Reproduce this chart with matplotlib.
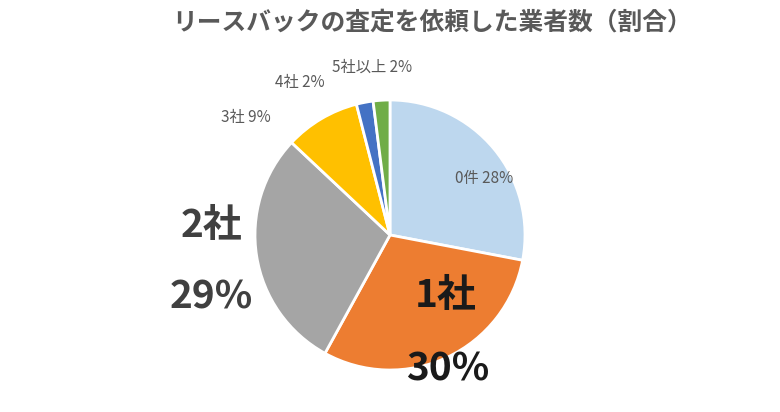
import matplotlib
matplotlib.use('Agg')
import matplotlib.pyplot as plt
import numpy as np

plt.rcParams['font.family'] = ['Noto Sans CJK JP', 'DejaVu Sans']

# Data
categories = ['0件', '1社', '2社', '3社', '4社', '5社以上']
shares = [28, 30, 29, 9, 2, 2]
slice_colors = ['#BDD7EE', '#ED7D31', '#A5A5A5', '#FFC000', '#4472C4', '#70AD47']
title = 'リースバックの査定を依頼した業者数（割合）'

fig = plt.figure(figsize=(7.8, 4.12), dpi=100)
ax = fig.add_axes([0, 0, 1, 1])

# Pie starting at the top, going clockwise
ax.pie(shares, colors=slice_colors, startangle=90, counterclock=False,
       radius=1, center=(0, 0),
       wedgeprops={'edgecolor': 'white', 'linewidth': 2})

# keep 135 px per unit so the pie sits where it does in the original
ax.set_xlim(-390 / 135, 390 / 135)
ax.set_ylim(-177 / 135, 235 / 135)
ax.set_aspect('equal', adjustable='datalim')
ax.axis('off')

# Small labels
small = {'color': '#595959', 'fontsize': 11, 'ha': 'center', 'va': 'center'}
ax.text(0.70, 0.42, f'{categories[0]} {shares[0]}%', **small)
ax.text(-1.07, 0.87, f'{categories[3]} {shares[3]}%', **small)
ax.text(-0.67, 1.13, f'{categories[4]} {shares[4]}%', **small)
ax.text(-0.13, 1.24, f'{categories[5]} {shares[5]}%', **small)

# Big labels for 1社 and 2社
big = {'fontsize': 28, 'fontweight': 'bold', 'ha': 'center', 'va': 'center'}
ax.text(0.41, -0.45, categories[1], color='#1a1a1a', **big)
ax.text(0.43, -0.99, f'{shares[1]}%', color='#1a1a1a', **big)
ax.text(-1.32, 0.07, categories[2], color='#404040', **big)
ax.text(-1.32, -0.46, f'{shares[2]}%', color='#404040', **big)

fig.text(432 / 780, 1 - 23 / 412, title, ha='center', va='center',
         fontsize=17.8, fontweight='bold', color='#595959')

fig.savefig('out.png', dpi=100)
